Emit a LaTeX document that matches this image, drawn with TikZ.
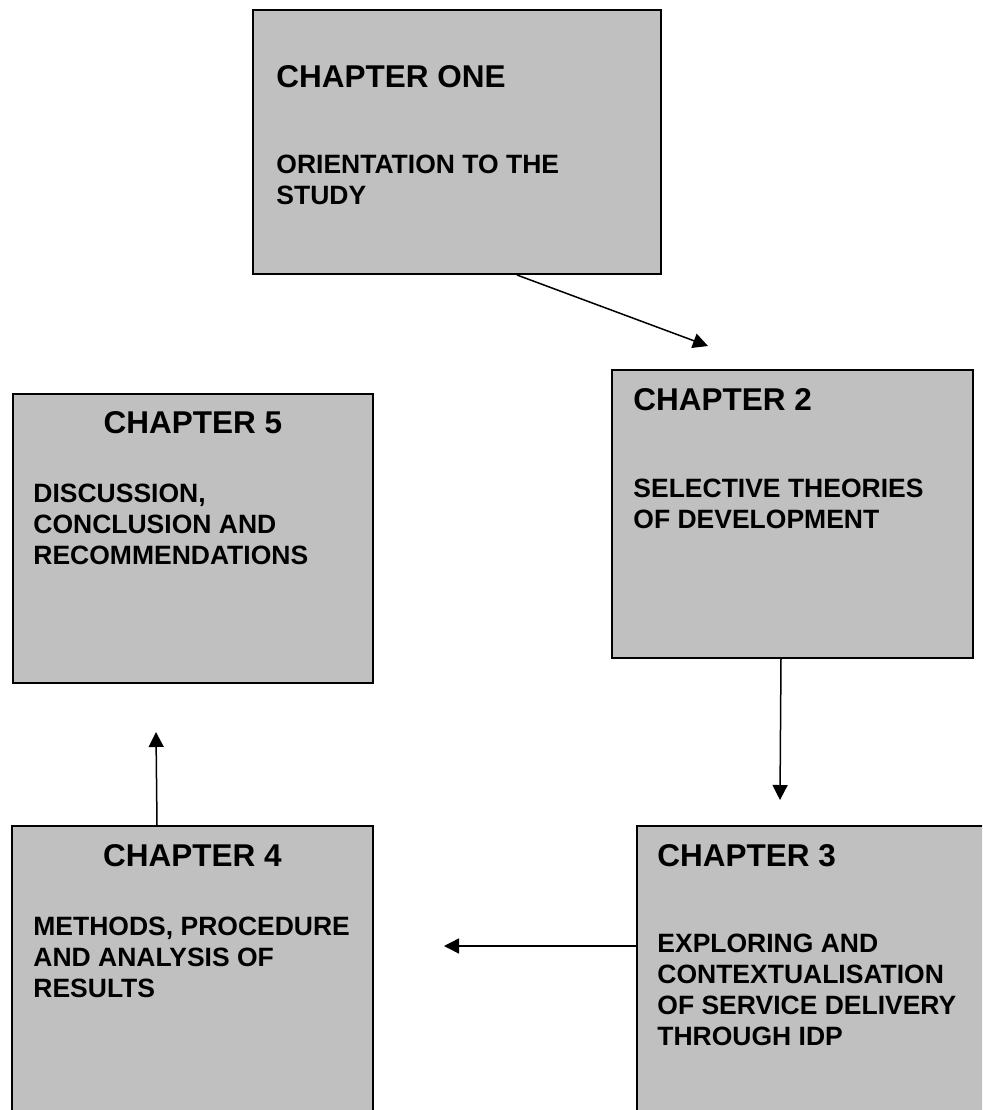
\documentclass[tikz,border=0pt]{standalone}
\usepackage{fontspec}
\setmainfont{Liberation Sans}
\usetikzlibrary{arrows.meta}
\definecolor{boxgrey}{RGB}{192,192,192}
\tikzset{
  chapbox/.style={draw, line width=1pt, fill=boxgrey, anchor=north west, inner sep=0pt},
  chaphead/.style={font=\fontsize{15.75}{18}\selectfont\bfseries, inner sep=0pt},
  chapbody/.style={font=\fontsize{13.25}{15.5}\selectfont\bfseries, align=left, inner sep=0pt, anchor=base west},
  link/.style={line width=0.75pt, -{Triangle[length=7.5pt,width=7.5pt]}}
}
\begin{document}
\begin{tikzpicture}[x=0.5pt,y=-0.5pt] %% one unit = one pixel, y runs down
  \useasboundingbox (0,0) rectangle (982,1110);%
  \clip (0,0) rectangle (982,1110);%

  %% the five chapter boxes (3 and 4 run off the page)
  \node[chapbox, minimum width=204pt, minimum height=132pt] (one) at (252,9) {};%
  \node[chapbox, minimum width=180.5pt, minimum height=144pt] (two) at (611,369) {};%
  \node[chapbox, minimum width=180pt, minimum height=150pt] (three) at (636,825) {};%
  \node[chapbox, minimum width=180.5pt, minimum height=150pt] (four) at (11,825) {};%
  \node[chapbox, minimum width=180pt, minimum height=144.5pt] (five) at (12,393) {};%

  %% titles and texts (base = baseline of the last line)
  \node[chaphead, anchor=base west] (one-h) at ([shift={(24,78)}]one.north west) {CHAPTER ONE};%
  \node[chapbody] (one-b) at ([shift={(24,195)}]one.north west) {ORIENTATION TO THE\\STUDY};%
  \node[chaphead, anchor=base west] (two-h) at ([shift={(22,41)}]two.north west) {CHAPTER 2};%
  \node[chapbody] (two-b) at ([shift={(22,159)}]two.north west) {SELECTIVE THEORIES\\OF DEVELOPMENT};%
  \node[chaphead, anchor=base west] (three-h) at ([shift={(21,41)}]three.north west) {CHAPTER 3};%
  \node[chapbody] (three-b) at ([shift={(21,220)}]three.north west) {EXPLORING AND\\CONTEXTUALISATION\\OF SERVICE DELIVERY\\THROUGH IDP};%
  \node[chaphead, anchor=base] (four-h) at ([shift={(0,41)}]four.north) {CHAPTER 4};%
  \node[chapbody] (four-b) at ([shift={(22,172)}]four.north west) {METHODS, PROCEDURE\\AND ANALYSIS OF\\RESULTS};%
  \node[chaphead, anchor=base] (five-h) at ([shift={(0,40)}]five.north) {CHAPTER 5};%
  \node[chapbody] (five-b) at ([shift={(21,171)}]five.north west) {DISCUSSION,\\CONCLUSION AND\\RECOMMENDATIONS};%

  %% arrows, each ends short of the next box
  \coordinate (to-two) at (708,346);%
  \coordinate (to-three) at (780,800);%
  \coordinate (to-four) at (444,946);%
  \coordinate (to-five) at (156,732);%
  \draw[link] ([shift={(60,0)}]one.south) -- (to-two);%
  \draw[link] ([shift={(-11.5,0)}]two.south) -- (to-three);%
  \draw[link] ([shift={(0,121)}]three.north west) -- (to-four);%
  \draw[link] ([shift={(-35.5,0)}]four.north) -- (to-five);%
\end{tikzpicture}
\end{document}
